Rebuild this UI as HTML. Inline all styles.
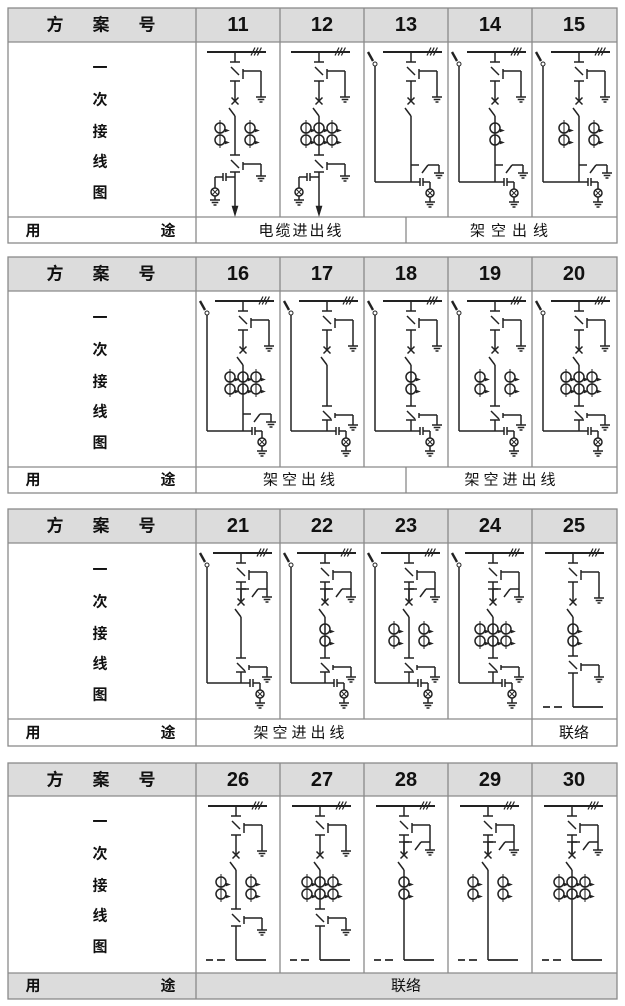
<!DOCTYPE html>
<html><head><meta charset="utf-8">
<style>
html,body{margin:0;padding:0;background:#fff;}
svg{display:block;}
text{font-family:"Liberation Sans","Noto Sans CJK SC",sans-serif;fill:#111;}
.h{font-size:17px;font-weight:bold;}
.n{font-size:20px;font-weight:bold;font-family:"Liberation Sans Narrow","Liberation Sans",sans-serif;}
.b{font-size:15px;font-weight:bold;}
.u{font-size:15px;}
</style></head>
<body>
<svg id="s" width="625" height="1006" viewBox="0 0 625 1006" xmlns="http://www.w3.org/2000/svg">
<g id="tbl"></g>
<g id="d" stroke="#222" stroke-width="1.5" fill="none"></g>
<g text-anchor="middle" dominant-baseline="central">
<text class="h" x="55" y="25">方</text><text class="h" x="101" y="25">案</text><text class="h" x="147" y="25">号</text>
<text class="n" x="238" y="25">11</text><text class="n" x="322" y="25">12</text><text class="n" x="406" y="25">13</text><text class="n" x="490" y="25">14</text><text class="n" x="574" y="25">15</text>
<text class="b" x="100" y="68">一</text><text class="b" x="100" y="100">次</text><text class="b" x="100" y="132">接</text><text class="b" x="100" y="162">线</text><text class="b" x="100" y="193">图</text>
<text class="b" x="33" y="231">用</text><text class="b" x="168" y="231">途</text>
<text class="u" x="301" y="231" letter-spacing="2">电缆进出线</text><text class="u" x="512" y="231" letter-spacing="6">架空出线</text>
<text class="h" x="55" y="274">方</text><text class="h" x="101" y="274">案</text><text class="h" x="147" y="274">号</text>
<text class="n" x="238" y="274">16</text><text class="n" x="322" y="274">17</text><text class="n" x="406" y="274">18</text><text class="n" x="490" y="274">19</text><text class="n" x="574" y="274">20</text>
<text class="b" x="100" y="318">一</text><text class="b" x="100" y="350">次</text><text class="b" x="100" y="382">接</text><text class="b" x="100" y="412">线</text><text class="b" x="100" y="443">图</text>
<text class="b" x="33" y="480">用</text><text class="b" x="168" y="480">途</text>
<text class="u" x="301" y="480" letter-spacing="4">架空出线</text><text class="u" x="512" y="480" letter-spacing="4">架空进出线</text>
<text class="h" x="55" y="526">方</text><text class="h" x="101" y="526">案</text><text class="h" x="147" y="526">号</text>
<text class="n" x="238" y="526">21</text><text class="n" x="322" y="526">22</text><text class="n" x="406" y="526">23</text><text class="n" x="490" y="526">24</text><text class="n" x="574" y="526">25</text>
<text class="b" x="100" y="570">一</text><text class="b" x="100" y="602">次</text><text class="b" x="100" y="634">接</text><text class="b" x="100" y="664">线</text><text class="b" x="100" y="695">图</text>
<text class="b" x="33" y="733">用</text><text class="b" x="168" y="733">途</text>
<text class="u" x="301" y="733" letter-spacing="4">架空进出线</text><text class="u" x="574" y="733">联络</text>
<text class="h" x="55" y="780">方</text><text class="h" x="101" y="780">案</text><text class="h" x="147" y="780">号</text>
<text class="n" x="238" y="780">26</text><text class="n" x="322" y="780">27</text><text class="n" x="406" y="780">28</text><text class="n" x="490" y="780">29</text><text class="n" x="574" y="780">30</text>
<text class="b" x="100" y="822">一</text><text class="b" x="100" y="854">次</text><text class="b" x="100" y="886">接</text><text class="b" x="100" y="916">线</text><text class="b" x="100" y="947">图</text>
<text class="b" x="33" y="986">用</text><text class="b" x="168" y="986">途</text>
<text class="u" x="406" y="986">联络</text>
</g>
</svg>
<script>
var NS="http://www.w3.org/2000/svg";
var T=document.getElementById('tbl'),D=document.getElementById('d');
function el(p,tag,a){var e=document.createElementNS(NS,tag);for(var k in a)e.setAttribute(k,a[k]);p.appendChild(e);return e;}
var cols=[8,196,280,364,448,532,617];
var blocks=[[8,42,217,243,[406],false],[257,291,467,493,[406],false],[509,543,719,746,[532],false],[763,796,973,999,[],true]];
blocks.forEach(function(b){
 var t=b[0],h=b[1],bb=b[2],bt=b[3];
 el(T,'rect',{x:8,y:t,width:609,height:h-t,fill:'#dcdcdc'});
 if(b[5])el(T,'rect',{x:8,y:bb,width:609,height:bt-bb,fill:'#dcdcdc'});
 var g=el(T,'g',{stroke:'#8a8a8a','stroke-width':1.3,fill:'none'});
 el(g,'rect',{x:8,y:t,width:609,height:bt-t});
 el(g,'line',{x1:8,y1:h,x2:617,y2:h});el(g,'line',{x1:8,y1:bb,x2:617,y2:bb});
 el(g,'line',{x1:196,y1:t,x2:196,y2:bt});
 for(var i=2;i<6;i++)el(g,'line',{x1:cols[i],y1:t,x2:cols[i],y2:bb});
 b[4].forEach(function(x){el(g,'line',{x1:x,y1:bb,x2:x,y2:bt});});
});
function L(x1,y1,x2,y2,w){var e=el(D,'line',{x1:x1,y1:y1,x2:x2,y2:y2});if(w)e.setAttribute('stroke-width',w);}
function gnd(x,y){L(x-5,y,x+5,y);L(x-3.3,y+2.5,x+3.3,y+2.5);L(x-1.5,y+5,x+1.5,y+5);}
function ct(x,y){el(D,'circle',{cx:x,cy:y,r:5});el(D,'polygon',{points:(x+5)+','+(y+1)+' '+(x+9)+','+(y+2.5)+' '+(x+5)+','+(y+4),fill:'#222','stroke-width':0.6});}
function lamp(x,y){el(D,'circle',{cx:x,cy:y,r:4});L(x-2.8,y-2.8,x+2.8,y+2.8,1);L(x-2.8,y+2.8,x+2.8,y-2.8,1);}
function esw(m,y1,y2,gy,ng){L(m-5,y1,m+5,y1);L(m-4,y1+5,m+4,y1+13);L(m+8,y1+7,m+8,y2-2);L(m+8,y1+9,m+26,y1+9);L(m+26,y1+9,m+26,gy);if(!ng)gnd(m+26,gy);L(m-5,y2,m+5,y2);}
function gs(m,y,gx){L(m,y,m+8,y);L(m+11,y+8,m+17,y);L(m+17,y,gx,y);L(gx,y,gx,y+8);gnd(gx,y+8);}
var cells=[
 {c:1,B:42,m:39,ct:'2',low:'esw',end:'arrow'},
 {c:2,B:42,m:39,ct:'3',low:'esw',end:'arrow'},
 {c:3,B:42,m:47,left:1,ct:'',low:'gs',end:'cap'},
 {c:4,B:42,m:47,left:1,ct:'1',low:'gs',end:'cap'},
 {c:5,B:42,m:47,left:1,ct:'2',low:'gs',end:'cap'},
 {c:1,B:291,m:47,left:1,ct:'3',low:'gs',end:'cap'},
 {c:2,B:291,m:47,left:1,ct:'',low:'esw2',end:'cap'},
 {c:3,B:291,m:47,left:1,ct:'1',low:'esw2',end:'cap'},
 {c:4,B:291,m:47,left:1,ct:'2',low:'esw2',end:'cap'},
 {c:5,B:291,m:47,left:1,ct:'3',low:'esw2',end:'cap'},
 {c:1,B:543,m:45,left:1,top2:1,ct:'',low:'esw2',end:'cap'},
 {c:2,B:543,m:45,left:1,top2:1,ct:'1',low:'esw2',end:'cap'},
 {c:3,B:543,m:45,left:1,top2:1,ct:'2',low:'esw2',end:'cap'},
 {c:4,B:543,m:45,left:1,top2:1,ct:'3',low:'esw2',end:'cap'},
 {c:5,B:543,m:41,ct:'1',low:'esw',end:'line'},
 {c:1,B:796,m:40,ct:'2',low:'esw',end:'line'},
 {c:2,B:796,m:40,ct:'3',low:'esw',end:'line'},
 {c:3,B:796,m:40,top2:1,ct:'1',low:'',end:'line'},
 {c:4,B:796,m:40,top2:1,ct:'2',low:'',end:'line'},
 {c:5,B:796,m:40,top2:1,ct:'3',low:'',end:'line'}
];
cells.forEach(function(o){
 var X0=cols[o.c],Y=o.B,m=X0+o.m,y=function(v){return Y+v;};
 var by=y(10);
 L(m-28,by,m+31,by,1.9);
 for(var k=0;k<3;k++)L(m+16+k*3.2,by+3.5,m+20+k*3.2,by-4.5,1.2);
 L(m,by,m,y(20));
 esw(m,y(20),y(39),y(o.top2?46:55),o.top2);
 var xy=y(59);
 if(o.top2){L(m-5,y(46),m+5,y(46));L(m,y(46),m,xy);gs(m,y(46),m+26);}
 L(m,y(39),m,xy);
 L(m-3.5,xy-3.5,m+3.5,xy+3.5);L(m-3.5,xy+3.5,m+3.5,xy-3.5);
 L(m-6,y(66),m,y(74));
 var c1=y(86),c2=y(98);
 if(o.ct=='1'){ct(m,c1);ct(m,c2);}
 if(o.ct=='2'){[m-15,m+15].forEach(function(x){ct(x,c1);ct(x,c2);L(x,c1-8,x,c2+8,1);});}
 if(o.ct=='3'){[m-13,m,m+13].forEach(function(x){ct(x,c1);ct(x,c2);L(x,c1-8,x,c2+8,1);});}
 var cy=y(140);
 if(o.low=='esw'){L(m,y(74),m,y(113));esw(m,y(113),y(130),y(134));}
 if(o.low=='esw2'){L(m,y(74),m,y(115));esw(m,y(115),y(129),y(134));}
 if(o.low=='gs'){L(m,y(74),m,cy);gs(m,y(123),m+28);}
 if(o.low==''){L(m,y(74),m,y(164));}
 if(o.end=='arrow'){
  L(m,y(130),m,y(168));
  el(D,'polygon',{points:(m-3)+','+y(164)+' '+(m+3)+','+y(164)+' '+m+','+y(174),fill:'#222','stroke-width':0.6});
  var cyy=y(135);L(m,cyy,m-9,cyy);L(m-9,cyy-4,m-9,cyy+4);L(m-12,cyy-4,m-12,cyy+4);L(m-12,cyy,m-20,cyy);L(m-20,cyy,m-20,y(146));lamp(m-20,y(150));L(m-20,y(154),m-20,y(158));gnd(m-20,y(158));
 }
 if(o.end=='cap'){
  if(o.low!='gs')L(m,y(129),m,cy);
  L(m,cy,m+9,cy);L(m+9,cy-4,m+9,cy+4);L(m+12,cy-4,m+12,cy+4);L(m+12,cy,m+19,cy);L(m+19,cy,m+19,y(147));lamp(m+19,y(151));L(m+19,y(155),m+19,y(160));gnd(m+19,y(160));
 }
 if(o.left){
  var lx=X0+11;
  L(lx-7,y(10),lx-2,y(19),2.4);
  el(D,'circle',{cx:lx,cy:y(22),r:2,'stroke-width':1});
  L(lx,y(24),lx,cy);L(lx,cy,m,cy);
 }
 if(o.end=='line'){
  var ly=y(164);
  if(o.low=='esw')L(m,y(130),m,ly);
  L(m,ly,m+30,ly,1.7);L(m-30,ly,m-23,ly,1.7);L(m-19,ly,m-11,ly,1.7);
 }
});
</script>
</body></html>
